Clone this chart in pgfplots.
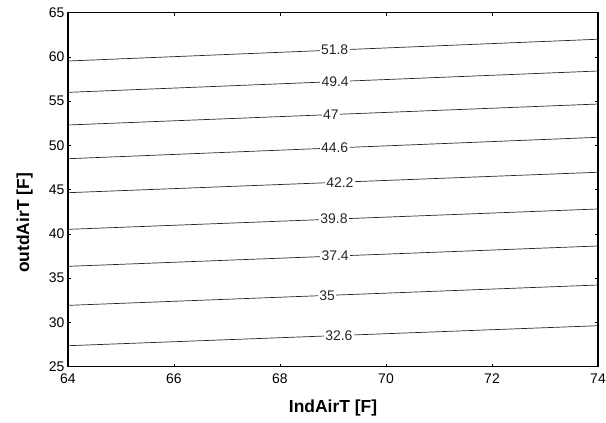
\documentclass[border=0pt]{standalone}
\usepackage{pgfplots}
\pgfplotsset{compat=1.18}
\usepackage{fontspec}
\setmainfont{Liberation Sans}
\begin{document}
\begin{tikzpicture}
\begin{axis}[
  scale only axis,
  width=530bp, height=354bp,
  xmin=64, xmax=74, ymin=25, ymax=65,
  xtick={64,66,...,74}, ytick={25,30,...,65},
  tick align=inside,
  major tick length=3bp,
  axis line style={line width=1.2pt},
  every tick/.style={black, line width=0.6pt},
  /pgf/number format/assume math mode=true,
  ticklabel style={font=\fontsize{14}{16}\selectfont},
  xticklabel style={yshift=-4bp},
  xlabel={\textbf{IndAirT [F]}},
  ylabel={\textbf{outdAirT [F]}},
  label style={font=\fontsize{17.5}{19}\selectfont},
  xlabel style={at={(axis description cs:0.5,0)}, anchor=center, yshift=-41.5bp},
  ylabel style={at={(axis description cs:0,0.406)}, anchor=center, rotate=0, yshift=43.5bp},
  clip=false,
]
\pgfplotsset{cl/.style={black!85, line width=0.7pt, mark=none}}
\tikzset{lbl/.style={fill=white, inner sep=1.5bp, font=\fontsize{14}{16}\selectfont}}
\addplot[cl] coordinates {(64,59.54) (74,62.0)} node[lbl, pos=0.503] {51.8};
\addplot[cl] coordinates {(64,56.0) (74,58.41)} node[lbl, pos=0.504] {49.4};
\addplot[cl] coordinates {(64,52.31) (74,54.68)} node[lbl, pos=0.496] {47};
\addplot[cl] coordinates {(64,48.5) (74,50.92)} node[lbl, pos=0.503] {44.6};
\addplot[cl] coordinates {(64,44.66) (74,46.97)} node[lbl, pos=0.513] {42.2};
\addplot[cl] coordinates {(64,40.52) (74,42.82)} node[lbl, pos=0.502] {39.8};
\addplot[cl] coordinates {(64,36.34) (74,38.64)} node[lbl, pos=0.504] {37.4};
\addplot[cl] coordinates {(64,31.93) (74,34.23)} node[lbl, pos=0.489] {35};
\addplot[cl] coordinates {(64,27.37) (74,29.63)} node[lbl, pos=0.511] {32.6};
\end{axis}
\pgfresetboundingbox
\path ([shift={(-68bp,-56.3bp)}]current axis.south west) rectangle ([shift={(8bp,12.7bp)}]current axis.north east);
\end{tikzpicture}
\end{document}
